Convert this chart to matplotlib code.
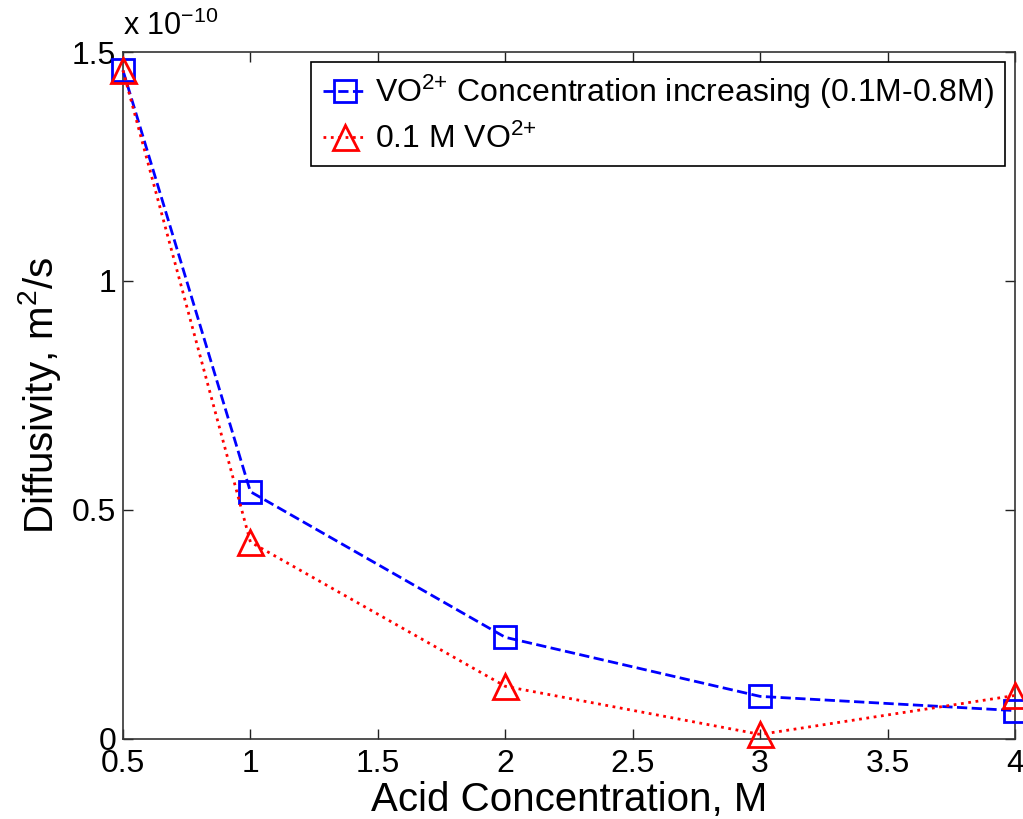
import matplotlib
matplotlib.use("Agg")
import matplotlib.pyplot as plt

plt.rcParams['font.family'] = ['Liberation Sans', 'DejaVu Sans']
plt.rcParams['mathtext.fontset'] = 'custom'
plt.rcParams['mathtext.rm'] = 'Liberation Sans'
plt.rcParams['mathtext.it'] = 'Liberation Sans:italic'
plt.rcParams['mathtext.bf'] = 'Liberation Sans:bold'

# Data (diffusivity in units of 1e-10 m^2/s)
acid_conc = [0.5, 1, 2, 3, 4]
vo_increasing = [1.46, 0.54, 0.222, 0.093, 0.062]
vo_01M = [1.46, 0.43, 0.115, 0.01, 0.095]

xticks = [0.5, 1, 1.5, 2, 2.5, 3, 3.5, 4]
xticklabels = ['0.5', '1', '1.5', '2', '2.5', '3', '3.5', '4']
yticks = [0, 0.5, 1, 1.5]
yticklabels = ['0', '0.5', '1', '1.5']

label_blue = r'$\mathregular{VO^{2{+}}}$ Concentration increasing (0.1M-0.8M)'
label_red = r'0.1 M $\mathregular{VO^{2{+}}}$'

fig = plt.figure(figsize=(10.23, 8.19), dpi=100)
ax = fig.add_axes([0.1202, 0.0977, 0.8720, 0.8388])

ax.plot(acid_conc, vo_increasing, linestyle='--', color='#0000ff', linewidth=2,
        marker='s', markersize=16, markerfacecolor='none', markeredgewidth=2,
        markeredgecolor='#0000ff', label=label_blue, clip_on=False, zorder=3)
ax.plot(acid_conc, vo_01M, linestyle=':', color='#ff0000', linewidth=2,
        marker='^', markersize=18, markerfacecolor='none', markeredgewidth=2,
        markeredgecolor='#ff0000', label=label_red, clip_on=False, zorder=4)

ax.set_xlim(0.5, 4)
ax.set_ylim(0, 1.5)
ax.set_xticks(xticks)
ax.set_xticklabels(xticklabels)
ax.set_yticks(yticks)
ax.set_yticklabels(yticklabels)
ax.tick_params(direction='in', length=7, width=1, top=True, right=True,
               labelsize=23, colors='#222222', labelcolor='black')
ax.tick_params(axis='x', pad=7)
ax.tick_params(axis='y', pad=5)
for s in ax.spines.values():
    s.set_linewidth(1.2)
    s.set_color('#333333')

ax.set_xlabel('Acid Concentration, M', fontsize=29, labelpad=2)
ax.set_ylabel(r'Diffusivity, $\mathregular{m^2}$/s', fontsize=29, labelpad=6)

ax.text(0.0, 1.015, r'x $\mathregular{10^{-10}}$', transform=ax.transAxes,
        fontsize=22, ha='left', va='bottom')

leg = ax.legend(loc='upper right', fontsize=23, frameon=True, fancybox=False,
                edgecolor='black', framealpha=1, handlelength=1.4,
                borderaxespad=0.3, handletextpad=0.25, labelspacing=0.4,
                borderpad=0.35)
leg.get_frame().set_linewidth(1.2)

fig.savefig('out.png', dpi=100)
